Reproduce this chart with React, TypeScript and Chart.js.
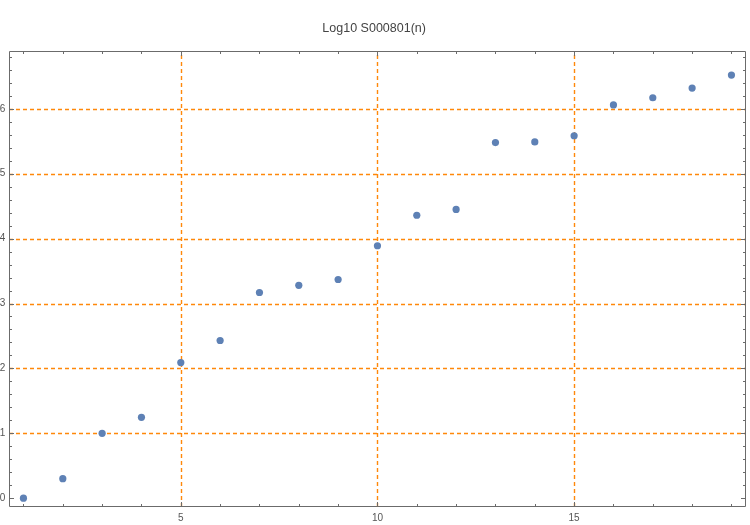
import React, { useEffect, useRef } from "react";
import { Chart, registerables } from "chart.js";

Chart.register(...registerables);

const nValues = [1, 2, 3, 4, 5, 6, 7, 8, 9, 10, 11, 12, 13, 14, 15, 16, 17, 18, 19];
const logValues = [0, 0.301, 1.0, 1.246, 2.09, 2.43, 3.17, 3.28, 3.37, 3.89, 4.36, 4.45, 5.48, 5.49, 5.585, 6.06, 6.17, 6.32, 6.52];
const xTickValues = [1, 2, 3, 4, 5, 6, 7, 8, 9, 10, 11, 12, 13, 14, 15, 16, 17, 18, 19];
const yTickValues = [0, 0.2, 0.4, 0.6, 0.8, 1, 1.2, 1.4, 1.6, 1.8, 2, 2.2, 2.4, 2.6, 2.8, 3, 3.2, 3.4, 3.6, 3.8, 4, 4.2, 4.4, 4.6, 4.8, 5, 5.2, 5.4, 5.6, 5.8, 6, 6.2, 6.4, 6.6, 6.8];
const xLabelled = [5, 10, 15];
const yLabelled = [0, 1, 2, 3, 4, 5, 6];
const xGrid = [5, 10, 15];
const yGrid = [1, 2, 3, 4, 5, 6];
const titleText = "Log10 S000801(n)";

const ORANGE = "rgb(255,136,10)";
const FRAME = "#6b6b6b";
const LABEL = "#555555";

const isIn = (arr: number[], v: number) => arr.some((a) => Math.abs(a - v) < 1e-6);

const gridPlugin = {
  id: "mmaGrid",
  beforeDatasetsDraw(chart: any) {
    const { ctx, chartArea } = chart;
    const xs = chart.scales.x;
    const ys = chart.scales.y;
    const L = Math.round(chartArea.left);
    const R = Math.round(chartArea.right);
    const T = Math.round(chartArea.top);
    const B = Math.round(chartArea.bottom);
    ctx.save();
    ctx.strokeStyle = ORANGE;
    ctx.lineWidth = 1.4;
    ctx.setLineDash([4, 3]);
    for (const v of xGrid) {
      const px = Math.round(xs.getPixelForValue(v)) + 0.5;
      ctx.beginPath();
      ctx.moveTo(px, B);
      ctx.lineTo(px, T);
      ctx.stroke();
    }
    for (const v of yGrid) {
      const py = Math.round(ys.getPixelForValue(v)) + 0.5;
      ctx.beginPath();
      ctx.moveTo(L, py);
      ctx.lineTo(R, py);
      ctx.stroke();
    }
    ctx.restore();
  },
  afterDraw(chart: any) {
    const { ctx, chartArea } = chart;
    const xs = chart.scales.x;
    const ys = chart.scales.y;
    const L = Math.round(chartArea.left) + 0.5;
    const R = Math.round(chartArea.right) - 0.5;
    const T = Math.round(chartArea.top) + 0.5;
    const B = Math.round(chartArea.bottom) - 0.5;
    ctx.save();
    ctx.strokeStyle = FRAME;
    ctx.lineWidth = 1;
    ctx.setLineDash([]);
    ctx.beginPath();
    ctx.rect(L, T, R - L, B - T);
    ctx.stroke();
    ctx.beginPath();
    for (const v of xTickValues) {
      const px = Math.round(xs.getPixelForValue(v)) + 0.5;
      const len = isIn(xLabelled, v) ? 4.5 : 2.5;
      ctx.moveTo(px, B);
      ctx.lineTo(px, B - len);
      ctx.moveTo(px, T);
      ctx.lineTo(px, T + len);
    }
    for (const v of yTickValues) {
      const py = Math.round(ys.getPixelForValue(v)) + 0.5;
      const len = isIn(yLabelled, v) ? 4.5 : 2.5;
      ctx.moveTo(L, py);
      ctx.lineTo(L + len, py);
      ctx.moveTo(R, py);
      ctx.lineTo(R - len, py);
    }
    ctx.stroke();
    ctx.restore();
  },
};

export default function App() {
  const ref = useRef<HTMLCanvasElement | null>(null);
  useEffect(() => {
    document.body.style.margin = "0";
    const canvas = ref.current;
    if (!canvas) return;
    const chart = new Chart(canvas, {
      type: "scatter",
      data: {
        datasets: [
          {
            data: nValues.map((n, i) => ({ x: n, y: logValues[i] })),
            backgroundColor: "#5E81B5",
            borderColor: "#5E81B5",
            borderWidth: 0,
            pointRadius: 3.6,
            pointHoverRadius: 3.6,
          },
        ],
      },
      options: {
        responsive: false,
        animation: false,
        devicePixelRatio: 1,
        layout: { padding: { top: 0.3, right: 1.7, bottom: 0, left: 0 } },
        plugins: {
          legend: { display: false },
          tooltip: { enabled: false },
          title: {
            display: true,
            text: titleText,
            color: "#444444",
            font: { family: "'Liberation Sans', Arial, sans-serif", size: 12.5, weight: "normal" },
            padding: { top: 21, bottom: 15 },
          },
        },
        scales: {
          x: {
            type: "linear",
            min: 0.64,
            max: 19.38,
            afterBuildTicks: (scale: any) => {
              scale.ticks = xTickValues.map((v) => ({ value: v }));
            },
            afterFit: (scale: any) => {
              scale.height = 17.7;
            },
            border: { display: false },
            grid: { display: false, drawTicks: false },
            ticks: {
              autoSkip: false,
              maxRotation: 0,
              padding: 5,
              color: LABEL,
              font: { family: "'Liberation Sans', Arial, sans-serif", size: 10 },
              callback: (v: any) => (isIn(xLabelled, Number(v)) ? String(Math.round(Number(v))) : ""),
            },
          },
          y: {
            type: "linear",
            min: -0.14,
            max: 6.886,
            afterBuildTicks: (scale: any) => {
              scale.ticks = yTickValues.map((v) => ({ value: v }));
            },
            afterFit: (scale: any) => {
              scale.width = 9.3;
            },
            border: { display: false },
            grid: { display: false, drawTicks: false },
            ticks: {
              autoSkip: false,
              padding: 4,
              color: LABEL,
              font: { family: "'Liberation Sans', Arial, sans-serif", size: 10 },
              callback: (v: any) => (isIn(yLabelled, Number(v)) ? String(Math.round(Number(v))) : ""),
            },
          },
        },
      } as any,
      plugins: [gridPlugin],
    });
    return () => chart.destroy();
  }, []);
  return (
    <div style={{ position: "absolute", left: 0, top: 0, width: 750, height: 525 }}>
      <canvas ref={ref} width={750} height={525} style={{ width: 750, height: 525 }} />
    </div>
  );
}
